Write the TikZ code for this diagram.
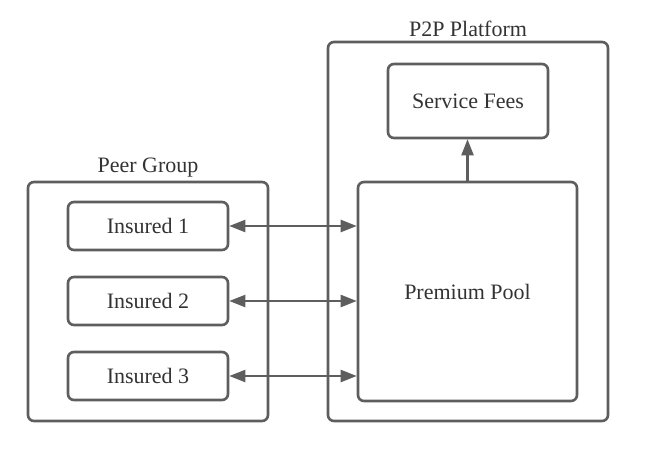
\documentclass[tikz,border=0pt]{standalone}
\usepackage{fontspec}
\setmainfont{Liberation Serif}
\usetikzlibrary{arrows.meta}
\definecolor{linec}{HTML}{5E5E5E}
\definecolor{textc}{HTML}{333333}
\begin{document}
\begin{tikzpicture}[x=1pt,y=-1pt,
  box/.style={draw=linec,line width=2.6pt,rounded corners=6pt},
  lbl/.style={text=textc,font=\fontsize{22}{26}\selectfont,inner sep=0pt},
  conn/.style={draw=linec,line width=2.2pt,-{Triangle[length=16pt,width=12pt]}},
  dconn/.style={draw=linec,line width=2.2pt,{Triangle[length=16pt,width=12pt]}-{Triangle[length=16pt,width=12pt]}}]
\useasboundingbox (0,0) rectangle (668,449);
\fill[white] (0,0) rectangle (668,449);
% outer groups
\draw[box] (28,182) rectangle (268,421);
\node[lbl] (pglbl) at (148,168) {Peer Group};
\draw[box] (328,42) rectangle (608,421);
\node[lbl] (p2plbl) at (468,29) {P2P Platform};
% inner nodes
\node[box,lbl,minimum width=160pt,minimum height=48pt] (i1) at (148,226) {Insured 1};
\node[box,lbl,minimum width=160pt,minimum height=48pt] (i2) at (148,301) {Insured 2};
\node[box,lbl,minimum width=160pt,minimum height=48pt] (i3) at (148,376) {Insured 3};
\node[box,lbl,minimum width=160pt,minimum height=74pt] (sf) at (468,101) {Service Fees};
\node[box,lbl,minimum width=219pt,minimum height=219pt] (pp) at (467.5,291.5) {Premium Pool};
% connectors
\draw[conn] (pp.north) -- (pp.north |- sf.south);
\draw[dconn] (i1.east) -- (i1.east -| pp.west);
\draw[dconn] (i2.east) -- (i2.east -| pp.west);
\draw[dconn] (i3.east) -- (i3.east -| pp.west);
\end{tikzpicture}
\end{document}
